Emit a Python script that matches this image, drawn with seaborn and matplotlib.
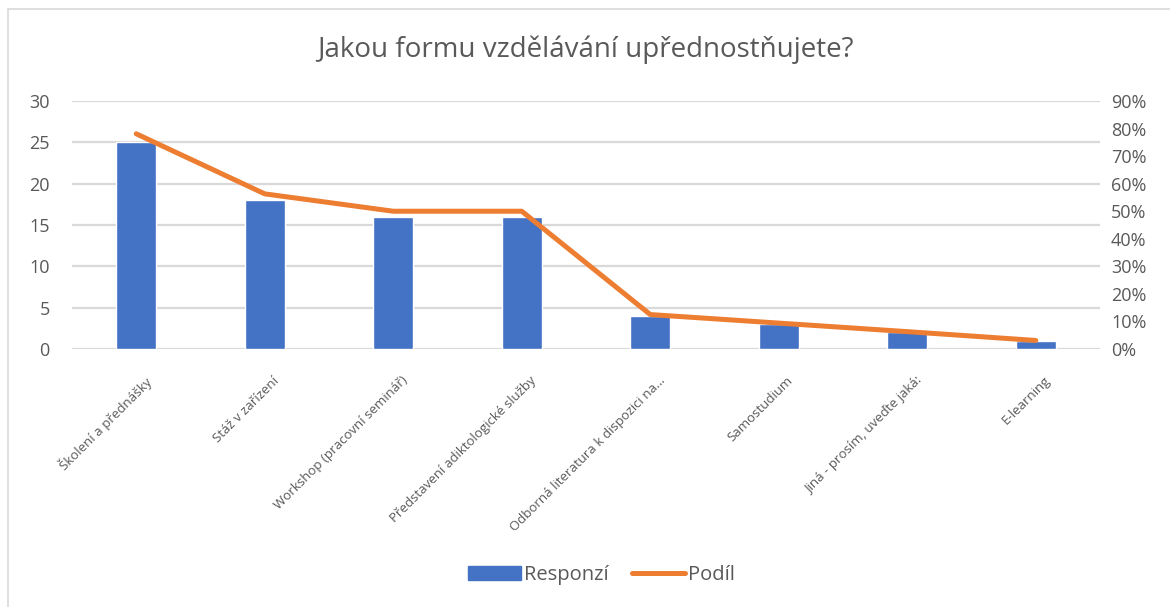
import numpy as np
import pandas as pd
import matplotlib.pyplot as plt
import matplotlib.transforms as mtransforms
import seaborn as sns
from matplotlib.patches import Rectangle
from matplotlib.lines import Line2D

# data
categories = ['Školení a přednášky', 'Stáž v zařízení', 'Workshop (pracovní seminář)',
              'Představení adiktologické služby', 'Odborná literatura k dispozici na…',
              'Samostudium', 'Jiná - prosím, uveďte jaká:', 'E-learning']
responses = [25, 18, 16, 16, 4, 3, 2, 1]
share_pct = [78.1, 56.3, 50.0, 50.0, 12.5, 9.4, 6.3, 3.1]

df = pd.DataFrame({'Kategorie': categories, 'Responzí': responses, 'Podíl': share_pct})
df['pos'] = np.arange(len(df))

sns.set_style("white")
plt.rcParams['font.family'] = ['Open Sans', 'DejaVu Sans']

blue = '#4472C4'
orange = '#ED7D31'
txt = '#595959'
grid = '#D9D9D9'

fig = plt.figure(figsize=(11.7, 6.07), dpi=100)
ax = fig.add_axes([72 / 1170, 1 - 349 / 607, 1028 / 1170, 248 / 607])

sns.barplot(data=df, x='Kategorie', y='Responzí', color=blue, width=0.31,
            saturation=1, ax=ax, zorder=2)
ax.set_ylim(0, 30)
ax.set_yticks(range(0, 31, 5))
ax.set_xlim(-0.5, len(df) - 0.5)
ax.yaxis.grid(True, color=grid, linewidth=1.6, zorder=0)
ax.set_axisbelow(True)
ax.set_xlabel('')
ax.set_ylabel('')
for s in ax.spines.values():
    s.set_visible(False)
ax.tick_params(axis='y', length=0, pad=16, labelsize=13, labelcolor=txt)
ax.tick_params(axis='x', length=0, pad=18)
ax.set_xticks(df['pos'])
ax.set_xticklabels(categories, rotation=45, ha='right', rotation_mode='anchor',
                   fontsize=9.5, color=txt)
shift = mtransforms.ScaledTranslation(8 / 100, 0, fig.dpi_scale_trans)
for lab in ax.get_xticklabels():
    lab.set_transform(lab.get_transform() + shift)

ax2 = ax.twinx()
sns.lineplot(data=df, x='pos', y='Podíl', color=orange, linewidth=3.6, ax=ax2,
             solid_capstyle='round', zorder=3)
ax2.set_ylim(0, 90)
ax2.set_yticks(range(0, 91, 10))
ax2.set_yticklabels([f'{v}%' for v in range(0, 91, 10)])
ax2.set_ylabel('')
for s in ax2.spines.values():
    s.set_visible(False)
ax2.tick_params(axis='y', length=0, pad=8, labelsize=13, labelcolor=txt)

fig.suptitle('Jakou formu vzdělávání upřednostňujete?', y=1 - 50 / 607, va='center',
             fontsize=20, color=txt)

handles = [Rectangle((0, 0), 1, 1, color=blue),
           Line2D([0], [0], color=orange, linewidth=3.6, solid_capstyle='round')]
fig.legend(handles, ['Responzí', 'Podíl'], loc='center', bbox_to_anchor=(0.514, 1 - 575 / 607),
           ncol=2, frameon=False, fontsize=14.5, labelcolor=txt, handlelength=2.6,
           handletextpad=0.15, columnspacing=1.2)

fig.patches.append(Rectangle((8 / 1170, -0.05), 1.2, 1 - 9 / 607 + 0.05,
                             transform=fig.transFigure, fill=False,
                             edgecolor='#D9D9D9', linewidth=1.2))

fig.savefig('out.png', dpi=100)
